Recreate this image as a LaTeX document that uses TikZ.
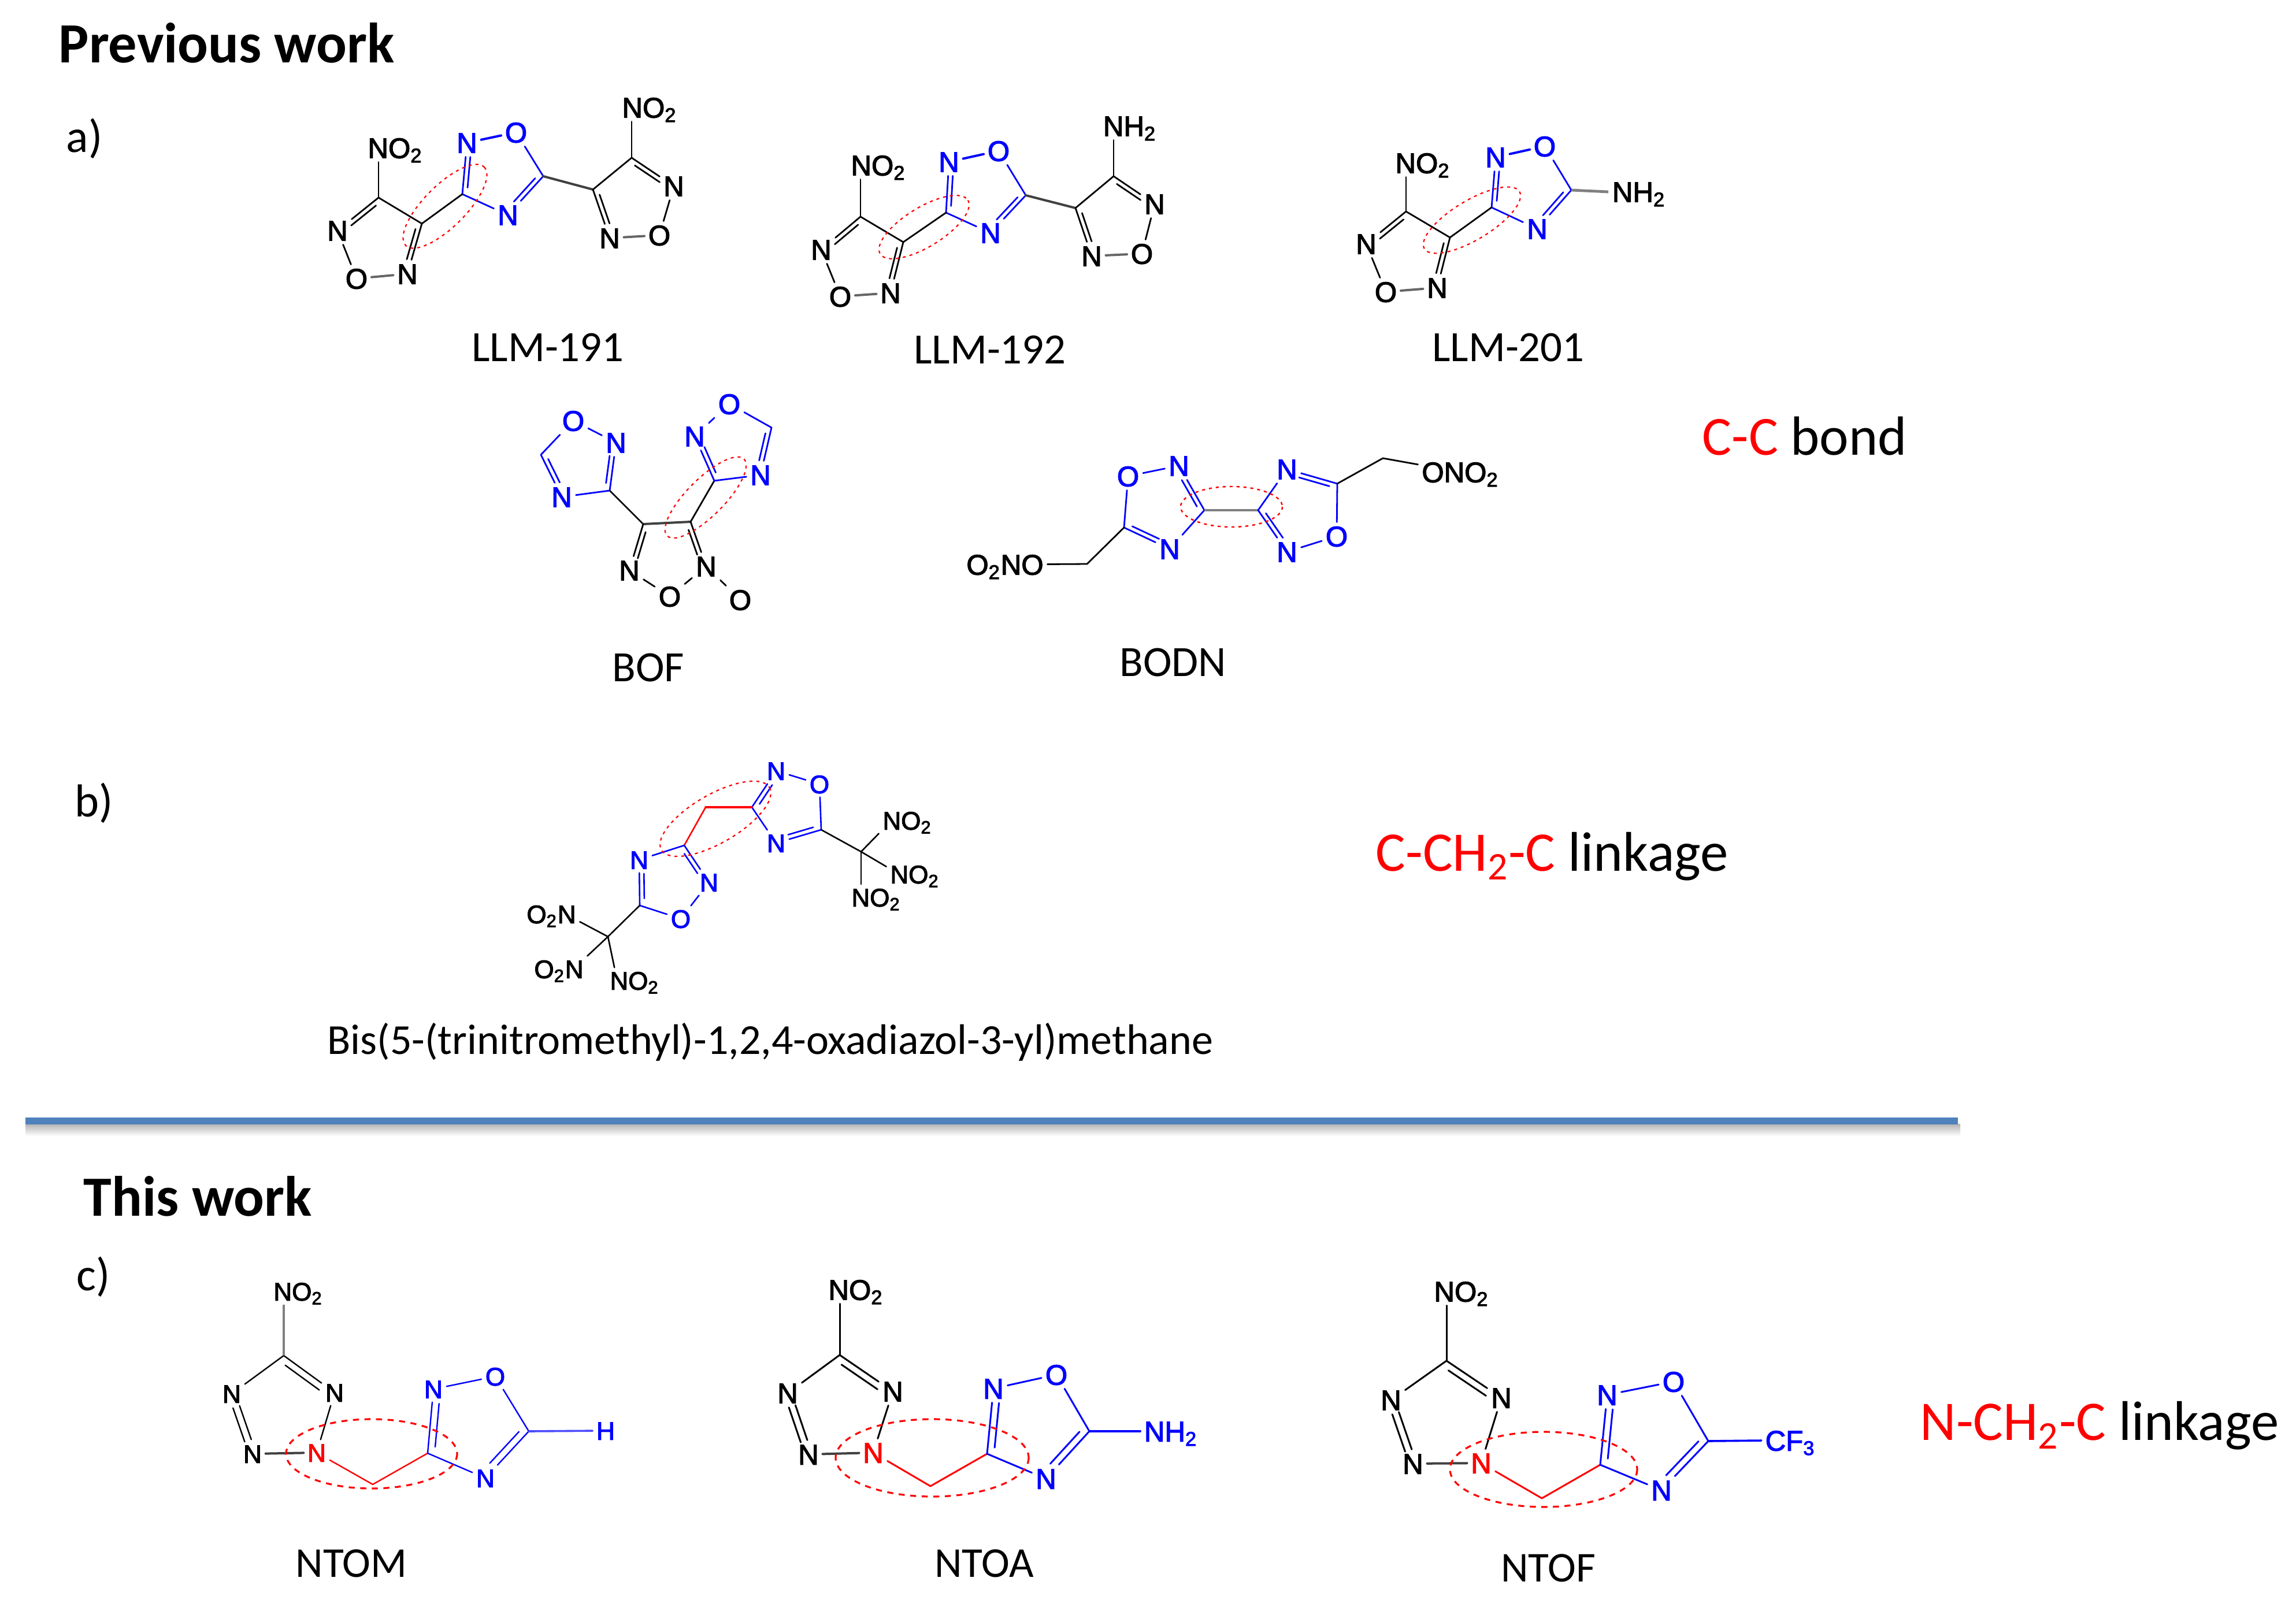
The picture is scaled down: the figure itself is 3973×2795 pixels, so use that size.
\documentclass[tikz,border=0pt]{standalone}
\usepackage{fontspec}
\setmainfont{Carlito}
\newfontfamily\arialf[FakeBold=2.5]{Liberation Sans}
\usetikzlibrary{calc}
\definecolor{chemblue}{RGB}{0,0,255}
\definecolor{chemred}{RGB}{255,0,0}
\definecolor{rulecol}{RGB}{79,129,189}
\tikzset{
  atom/.style={font=\arialf\fontsize{12.3}{12.3}\selectfont,inner sep=1.5pt,text height=8.8pt,text depth=0pt,text=black},
  atomb/.style={atom,text=chemblue},
  atomr/.style={atom,text=chemred},
  smatom/.style={atom,font=\arialf\fontsize{11}{11}\selectfont,text height=7.9pt},
  smatomb/.style={smatom,text=chemblue},
  smatomr/.style={smatom,text=chemred},
  bond/.style={line width=.7pt,line cap=round},
  greybond/.style={line width=1.2pt,black!50,line cap=butt},
  heavybond/.style={line width=1pt,black!75},
  ellup/.style={draw=chemred,line width=.55pt,dash pattern=on 1.3pt off 1.7pt},
  elldn/.style={draw=chemred,line width=.8pt,dash pattern=on 2.6pt off 2.4pt},
  lab/.style={font=\fontsize{18.7}{18.7}\selectfont,inner sep=0pt},
  labs/.style={font=\fontsize{18.4}{18.4}\selectfont,inner sep=0pt},
  labp/.style={font=\fontsize{20}{20}\selectfont,inner sep=0pt},
  big/.style={font=\fontsize{23.9}{23.9}\selectfont,inner sep=0pt},
  bigl/.style={font=\fontsize{24.2}{24.2}\selectfont,inner sep=0pt},
  head/.style={font=\bfseries\fontsize{24.6}{24.6}\selectfont,inner sep=0pt},
}
\newcommand\bnd[3][]{\draw[bond,#1] (#2) -- (#3);}
\newlength\dblA\setlength\dblA{3pt}
\newcommand\dbl[4][]{\draw[bond,#1] (#2) -- (#3);
  \draw[bond,#1,shorten <=\dblA,shorten >=6pt] ($(#2)!#4!90:(#3)$) -- ($(#3)!#4!-90:(#2)$);}
\newcommand\dbn[3][]{%
  \draw[bond,#1,shorten <=6pt,shorten >=6pt] ($(#2)!1.5pt!90:(#3)$) -- ($(#3)!1.5pt!-90:(#2)$);
  \draw[bond,#1,shorten <=6pt,shorten >=6pt] ($(#2)!-1.5pt!90:(#3)$) -- ($(#3)!-1.5pt!-90:(#2)$);}
% furazan rings of the LLM compounds
\newcommand\furL[1]{\dbl{#1c1}{#1n1}{2pt}\bnd{#1n1}{#1o1}\bnd[heavybond,black!60]{#1o1}{#1n2}\dbl{#1c2}{#1n2}{-2pt}\bnd{#1c1}{#1c2}}
\newcommand\oxa[1]{\dbl[chemblue]{#1c3}{#1n3}{-2pt}\bnd[chemblue,line width=1pt]{#1n3}{#1o2}\bnd[chemblue]{#1o2}{#1c5}\dbl[chemblue]{#1c5}{#1n4}{-2pt}\bnd[chemblue]{#1c3}{#1n4}\bnd{#1c2}{#1c3}}
\newcommand\furR[1]{\bnd[heavybond]{#1c5}{#1c6}\dbl{#1c6}{#1n5}{2pt}\bnd[heavybond,black!60]{#1n5}{#1o3}\bnd{#1o3}{#1n6}\dbl{#1c7}{#1n6}{-2pt}\bnd{#1c6}{#1c7}}
% nitrotetrazole + oxadiazole of the NTO compounds
\newcommand\nto[2][.75pt]{%
  \begin{scope}[bond/.append style={line width=#1}]
  \bnd{#2c}{#2nl}\dbl{#2c}{#2nr}{-3pt}\dbn{#2nl}{#2nb}\bnd[heavybond]{#2nb}{#2nq}\bnd{#2nq}{#2nr}
  \bnd[chemred]{#2nq}{#2m}\bnd[chemred]{#2m}{#2c3}
  \dbl[chemblue]{#2c3}{#2nt}{-3pt}\bnd[chemblue]{#2nt}{#2o}\bnd[chemblue]{#2o}{#2c5}
  \dbl[chemblue]{#2c5}{#2nw}{-3pt}\bnd[chemblue]{#2c3}{#2nw}
  \end{scope}}
\begin{document}
\begin{tikzpicture}[x=.25pt,y=-.25pt]
\useasboundingbox (0,0) rectangle (3973,2795);
% ---------- headings and captions
\node[head,anchor=west] (tPrev) at (101,74) {Previous work};
\node[labp,anchor=west] (tA) at (114,240) {a)};
\node[lab] (t191) at (948,601) {LLM-191};
\node[lab] (t192) at (1713,605) {LLM-192};
\node[lab] (t201) at (2610,601) {LLM-201};
\node[lab] (tBOF) at (1122,1155) {BOF};
\node[lab] (tBODN) at (2030,1146) {BODN};
\node[big,anchor=west] (tCC) at (2945,755) {\textcolor{chemred}{C-C} bond};
\node[labp,anchor=west] (tB) at (129,1390) {b)};
\node[bigl,anchor=west] (tCCH) at (2380,1482) {\textcolor{chemred}{C-CH\textsubscript{2}-C} linkage};
\node[font=\fontsize{18.5}{18.5}\selectfont,inner sep=0pt] (tBis) at (1333,1803) {Bis(5-(trinitromethyl)-1,2,4-oxadiazol-3-yl)methane};
\coordinate (ruleL) at (44,1939.5);
\coordinate (ruleR) at (3388,1939.5);
\shade[top color=black!30,bottom color=white] (44,1945) rectangle (3392,1966);
\draw[rulecol,line width=3pt] (ruleL) -- (ruleR);
\node[head,anchor=west] (tThis) at (144,2070) {This work};
\node[labp,anchor=west] (tC) at (132,2210) {c)};
\node[labs] (tM) at (608,2706) {NTOM};
\node[labs] (tAa) at (1703,2706) {NTOA};
\node[labs] (tF) at (2679,2714) {NTOF};
\node[bigl,anchor=west] (tNCH) at (3322,2467) {\textcolor{chemred}{N-CH\textsubscript{2}-C} linkage};
% ---------- LLM-191
\coordinate (ac1) at (655,342);\coordinate (ac2) at (730,387);\coordinate (ac3) at (800,336);
\coordinate (ac5) at (940,305);\coordinate (ac6) at (1026,328);\coordinate (ac7) at (1093,273);
\node[atom] (an1) at (584,399) {N};\node[atom] (ao1) at (617,482) {O};\node[atom] (an2) at (705,474) {N};
\node[atomb] (an3) at (808,247) {N};\node[atomb] (ao2) at (893,229) {O};\node[atomb] (an4) at (879,372) {N};
\node[atom] (an5) at (1055,412) {N};\node[atom] (ao3) at (1141,407) {O};\node[atom] (an6) at (1166,322) {N};
\node[atom] (agl) at (684,256) {NO\textsubscript{2}};\node[atom] (agr) at (1124,186) {NO\textsubscript{2}};
\furL{a}\oxa{a}\furR{a}
\bnd{ac1}{agl.south -| ac1}\bnd{ac7}{agr.south -| ac7}
\draw[ellup,rotate around={45:(770,357)}] (770,357) ellipse [x radius=96,y radius=36];
% ---------- LLM-192
\coordinate (bc1) at (1489,375);\coordinate (bc2) at (1563,419);\coordinate (bc3) at (1637,368);
\coordinate (bc5) at (1775,338);\coordinate (bc6) at (1861,360);\coordinate (bc7) at (1927,305);
\node[atom] (bn1) at (1421,432) {N};\node[atom] (bo1) at (1454,513) {O};\node[atom] (bn2) at (1541,507) {N};
\node[atomb] (bn3) at (1642,280) {N};\node[atomb] (bo2) at (1728,261) {O};\node[atomb] (bn4) at (1714,403) {N};
\node[atom] (bn5) at (1889,443) {N};\node[atom] (bo3) at (1976,439) {O};\node[atom] (bn6) at (1998,353) {N};
\node[atom] (bgl) at (1520,286) {NO\textsubscript{2}};\node[atom] (bgr) at (1955,218) {NH\textsubscript{2}};
\furL{b}\oxa{b}\furR{b}
\bnd{bc1}{bgl.south -| bc1}\bnd{bc7}{bgr.south -| bc7}
\draw[ellup,rotate around={31.5:(1599,393)}] (1599,393) ellipse [x radius=89,y radius=34];
% ---------- LLM-201
\coordinate (cc1) at (2433,366);\coordinate (cc2) at (2509,411);\coordinate (cc3) at (2581,359);
\coordinate (cc5) at (2719,329);
\node[atom] (cn1) at (2364,422) {N};\node[atom] (co1) at (2398,505) {O};\node[atom] (cn2) at (2487,498) {N};
\node[atomb] (cn3) at (2588,272) {N};\node[atomb] (co2) at (2673,253) {O};\node[atomb] (cn4) at (2660,396) {N};
\node[atom] (cgl) at (2462,282) {NO\textsubscript{2}};\node[atom] (cgr) at (2836,332) {NH\textsubscript{2}};
\furL{c}\oxa{c}
\bnd{cc1}{cgl.south -| cc1}\bnd[greybond]{cc5}{cgr.west}
\draw[ellup,rotate around={31:(2547,381)}] (2547,381) ellipse [x radius=96,y radius=34];
% ---------- BOF
\node[atomb] (fo1) at (992,728) {O};\node[atomb] (fn1) at (1066,766) {N};\coordinate (fc1) at (1055,849);
\node[atomb] (fn2) at (972,860) {N};\coordinate (fc2) at (936,787);
\coordinate (fc3) at (1113,907);\coordinate (fc4) at (1195,903);
\node[atom] (fn3) at (1089,987) {N};\node[atom] (fo2) at (1159,1032) {O};\node[atom] (fn4) at (1222,980) {N};
\node[atom] (fo3) at (1281,1038) {O};
\coordinate (fc5) at (1236,832);\node[atomb] (fn5) at (1202,755) {N};\node[atomb] (fo4) at (1262,699) {O};
\coordinate (fc6) at (1335,740);\node[atomb] (fn6) at (1316,822) {N};
\dbl[chemblue]{fc1}{fn1}{2pt}\dbl[chemblue]{fc2}{fn2}{2pt}\bnd[chemblue]{fo1}{fn1}\bnd[chemblue]{fo1}{fc2}\bnd[chemblue]{fc1}{fn2}
\bnd{fc1}{fc3}\bnd[heavybond]{fc3}{fc4}\dbl{fc3}{fn3}{2pt}\dbl{fc4}{fn4}{-2pt}\bnd{fn3}{fo2}\bnd{fo2}{fn4}\bnd{fn4}{fo3}\bnd{fc4}{fc5}
\dbl[chemblue]{fc5}{fn5}{-2pt}\bnd[chemblue]{fc5}{fn6}\dbl[chemblue]{fc6}{fn6}{-2pt}\bnd[chemblue]{fn5}{fo4}\bnd[chemblue]{fo4}{fc6}
\draw[ellup,rotate around={45:(1221,861)}] (1221,861) ellipse [x radius=94,y radius=32];
% ---------- BODN
\node[atomb] (do1) at (1952,824) {O};\node[atomb] (dn1) at (2040,806) {N};\coordinate (dc1) at (2084,883);
\node[atomb] (dn2) at (2024,950) {N};\coordinate (dc2) at (1945,913);\coordinate (dm1) at (1881,976);
\node[atom] (dg1) at (1739,977) {O\textsubscript{2}NO};
\coordinate (dc3) at (2177,883);\node[atomb] (dn3) at (2227,812) {N};\coordinate (dc4) at (2314,837);
\coordinate (dm2) at (2393,793);\node[atom] (dg2) at (2527,817) {ONO\textsubscript{2}};
\node[atomb] (do2) at (2313,928) {O};\node[atomb] (dn4) at (2227,955) {N};
\dbl[chemblue]{dc1}{dn1}{2pt}\bnd[chemblue]{do1}{dn1}\bnd[chemblue]{do1}{dc2}\bnd[chemblue]{dc1}{dn2}\dbl[chemblue]{dc2}{dn2}{2pt}
\bnd{dc2}{dm1}\bnd{dm1}{dg1}\bnd[greybond]{dc1}{dc3}
\dbl[chemblue]{dc3}{dn4}{2pt}\bnd[chemblue]{dc3}{dn3}\dbl[chemblue]{dc4}{dn3}{2pt}\bnd[chemblue]{dc4}{do2}\bnd[chemblue]{do2}{dn4}
\bnd{dc4}{dm2}\bnd{dm2}{dg2}
\draw[ellup,line width=.6pt] (2131,877) ellipse [x radius=88,y radius=35];
% ---------- Bis(...)methane
\begin{scope}[bond/.append style={line width=.65pt}]
\node[smatomb] (en1) at (1343,1334) {N};\node[smatomb] (eo1) at (1418,1357) {O};\coordinate (ec1) at (1301,1397);
\node[smatomb] (en2) at (1343,1459) {N};\coordinate (ec2) at (1421,1436);\coordinate (eq1) at (1490,1474);
\node[smatom] (eg1) at (1570,1420) {NO\textsubscript{2}};\node[smatom] (eg2) at (1583,1513) {NO\textsubscript{2}};\node[smatom] (eg3) at (1516,1553) {NO\textsubscript{2}};
\coordinate (em) at (1221,1397);\coordinate (ec3) at (1184,1463);
\node[smatomb] (en3) at (1106,1488) {N};\node[smatomb] (en4) at (1227,1527) {N};\node[smatomb] (eo2) at (1178,1590) {O};
\coordinate (ec4) at (1107,1567);\coordinate (eq2) at (1052,1621);
\node[smatom] (eg4) at (954,1582) {O\textsubscript{2}N};\node[smatom] (eg5) at (967,1677) {O\textsubscript{2}N};\node[smatom] (eg6) at (1098,1697) {NO\textsubscript{2}};
\dbl[chemblue]{ec1}{en1}{-2pt}\bnd[chemblue]{en1}{eo1}\bnd[chemblue]{eo1}{ec2}\dbl[chemblue]{ec2}{en2}{-2pt}\bnd[chemblue]{ec1}{en2}
\bnd{ec2}{eq1}\bnd{eq1}{eg1.south west}\bnd{eq1}{eg2.165}\bnd{eq1}{eg3.north -| eq1}
\bnd[chemred,line width=.9pt]{ec1}{em}\bnd[chemred]{em}{ec3}
\dbl[chemblue]{ec3}{en4}{-2pt}\bnd[chemblue]{ec3}{en3}\bnd[chemblue]{en4}{eo2}\bnd[chemblue]{eo2}{ec4}\dbl[chemblue]{ec4}{en3}{-2pt}
\bnd{ec4}{eq2}\bnd{eq2}{eg4.-15}\bnd{eq2}{eg5.north east}\bnd{eq2}{eg6.147}
\end{scope}
\draw[ellup,rotate around={30:(1238,1417)}] (1238,1417) ellipse [x radius=108,y radius=42];
% ---------- NTOM
\node[smatom] (mg) at (516,2235) {NO\textsubscript{2}};\coordinate (mc) at (491,2346);
\node[smatom] (mnl) at (401,2412) {N};\node[smatom] (mnr) at (579,2410) {N};\node[smatom] (mnb) at (437,2516) {N};
\node[smatomr] (mnq) at (548,2514) {N};\coordinate (mm) at (645,2569);\coordinate (mc3) at (740,2515);
\node[smatomb] (mnt) at (750,2404) {N};\node[smatomb] (mo) at (857,2382) {O};\coordinate (mc5) at (915,2477);
\node[smatomb] (mnw) at (840,2558) {N};\node[smatomb] (mh) at (1048,2476) {H};
\nto[.6pt]{m}
\bnd[greybond,line width=1pt]{mc}{mg.south -| mc}\bnd[chemblue!70,line width=.9pt]{mc5}{mh}
\draw[elldn] (643,2516) ellipse [x radius=148,y radius=60];
% ---------- NTOA
\node[atom] (ng) at (1481,2232) {NO\textsubscript{2}};\coordinate (nc) at (1453,2345);
\node[atom] (nnl) at (1363,2411) {N};\node[atom] (nnr) at (1545,2408) {N};\node[atom] (nnb) at (1399,2517) {N};
\node[atomr] (nnq) at (1511,2514) {N};\coordinate (nm) at (1610,2572);\coordinate (nc3) at (1708,2516);
\node[atomb] (nnt) at (1719,2403) {N};\node[atomb] (no) at (1828,2379) {O};\coordinate (nc5) at (1885,2477);
\node[atomb] (nnw) at (1810,2559) {N};\node[atomb] (nh) at (2026,2477) {NH\textsubscript{2}};
\nto{n}
\bnd[line width=.75pt]{nc}{ng.south -| nc}\bnd[chemblue,line width=.9pt]{nc5}{nh.west}
\draw[elldn] (1613,2523) ellipse [x radius=167,y radius=67];
% ---------- NTOF
\node[atom] (pg) at (2529,2235) {NO\textsubscript{2}};\coordinate (pc) at (2503,2355);
\node[atom] (pnl) at (2407,2423) {N};\node[atom] (pnr) at (2598,2419) {N};\node[atom] (pnb) at (2445,2533) {N};
\node[atomr] (pnq) at (2563,2532) {N};\coordinate (pm) at (2668,2593);\coordinate (pc3) at (2769,2535);
\node[atomb] (pnt) at (2781,2414) {N};\node[atomb] (po) at (2896,2391) {O};\coordinate (pc5) at (2956,2494);
\node[atomb] (pnw) at (2875,2579) {N};\node[atomb] (ph) at (3098,2493) {CF\textsubscript{3}};
\nto{p}
\bnd[line width=.75pt]{pc}{pg.south -| pc}\bnd[chemblue,line width=.9pt]{pc5}{ph.west}
\draw[elldn] (2671,2543) ellipse [x radius=162,y radius=65];
\end{tikzpicture}
\end{document}
